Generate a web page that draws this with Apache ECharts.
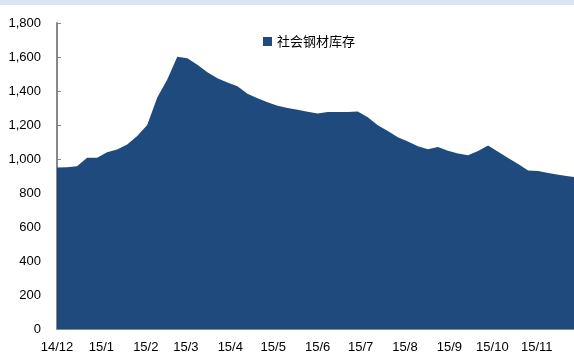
<!DOCTYPE html>
<html>
<head>
<meta charset="utf-8">
<script src="https://cdn.jsdelivr.net/npm/echarts@6/dist/echarts.min.js"></script>
<style>
  html, body { margin: 0; padding: 0; background: #fff; }
  #band { position: absolute; left: 0; top: 0; width: 574px; height: 5px; background: #dbe5f1; }
  #chart { width: 574px; height: 354px; }
</style>
</head>
<body>
<div id="band"></div>
<div id="chart"></div>
<script>
// weekly dates
const weeks = [
  '2014-12-01','2014-12-08','2014-12-15','2014-12-22','2014-12-29',
  '2015-01-05','2015-01-12','2015-01-19','2015-01-26',
  '2015-02-02','2015-02-09','2015-02-16','2015-02-23',
  '2015-03-02','2015-03-09','2015-03-16','2015-03-23','2015-03-30',
  '2015-04-06','2015-04-13','2015-04-20','2015-04-27',
  '2015-05-04','2015-05-11','2015-05-18','2015-05-25',
  '2015-06-01','2015-06-08','2015-06-15','2015-06-22','2015-06-29',
  '2015-07-06','2015-07-13','2015-07-20','2015-07-27',
  '2015-08-03','2015-08-10','2015-08-17','2015-08-24','2015-08-31',
  '2015-09-07','2015-09-14','2015-09-21','2015-09-28',
  '2015-10-05','2015-10-12','2015-10-19','2015-10-26',
  '2015-11-02','2015-11-09','2015-11-16','2015-11-23','2015-11-30'
]
// 社会钢材库存 (万吨)
const stock = [
  950, 952, 958, 1008, 1008,
  1040, 1056, 1085, 1135,
  1200, 1362, 1468, 1602,
  1592, 1555, 1510, 1475, 1450,
  1428, 1384, 1357, 1334,
  1313, 1300, 1289, 1278,
  1268, 1277, 1277, 1277, 1279,
  1245, 1198, 1165, 1128,
  1103, 1075, 1058, 1070, 1048,
  1033, 1022, 1047, 1079,
  1042, 1006, 970, 932,
  929, 918, 908, 898, 892
]
const yTicks = { min: 0, max: 1800, interval: 200 }

const chart = echarts.init(document.getElementById('chart'))
const option = {
  animation: false,
  legend: {
    top: 30,
    left: 258,
    itemWidth: 9,
    itemHeight: 9,
    itemGap: 4,
    selectedMode: false,
    textStyle: {
      color: '#000',
      fontSize: 13,
      fontFamily: 'Noto Sans CJK SC'
    },
    data: [{ name: '社会钢材库存', icon: 'rect' }]
  },
  grid: {
    left: 57,
    right: 0,
    top: 23,
    bottom: 19
  },
  xAxis: {
    type: 'time',
    min: '2014-12-01',
    max: '2015-11-27',
    minInterval: 28 * 86400000,
    maxInterval: 31 * 86400000,
    axisLine: { show: true, lineStyle: { color: '#888', width: 2 } },
    axisTick: { show: true, inside: true, length: 4, lineStyle: { color: '#888', width: 1 } },
    axisLabel: {
      color: '#000',
      fontSize: 13,
      fontFamily: 'Liberation Sans',
      margin: 12,
      hideOverlap: false,
      showMinLabel: true,
      formatter: function (v) {
        const d = new Date(v)
        return String(d.getFullYear()).slice(2) + '/' + (d.getMonth() + 1)
      }
    },
    splitLine: { show: false }
  },
  yAxis: {
    type: 'value',
    min: yTicks.min,
    max: yTicks.max,
    interval: yTicks.interval,
    axisLine: { show: true, lineStyle: { color: '#888', width: 2 } },
    axisTick: { show: true, inside: true, length: 4, lineStyle: { color: '#888', width: 1 } },
    axisLabel: {
      color: '#000',
      fontSize: 13,
      fontFamily: 'Liberation Sans',
      margin: 16,
      formatter: function (v) {
        return v.toLocaleString('en-US')
      }
    },
    splitLine: { show: false }
  },
  series: [
    {
      name: '社会钢材库存',
      type: 'line',
      showSymbol: false,
      symbol: 'none',
      clip: true,
      lineStyle: { width: 0 },
      itemStyle: { color: '#1f4a7d' },
      areaStyle: { color: '#1f4a7d', opacity: 1 },
      data: weeks.map((d, i) => [d, stock[i]])
    }
  ]
}
chart.setOption(option)
</script>
</body>
</html>
